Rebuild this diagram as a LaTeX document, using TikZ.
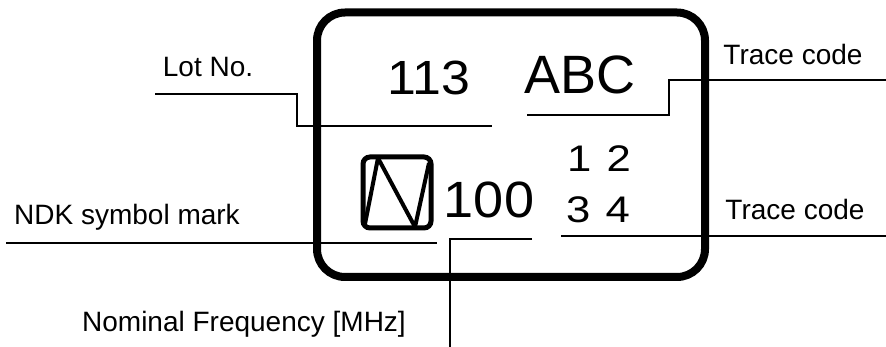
\documentclass[tikz,border=0pt]{standalone}
\usepackage{fontspec}
\usepackage{graphicx}
\setmainfont{Liberation Sans}
\newcommand{\widen}[2]{\scalebox{#1}[1]{#2}}
\begin{document}
\begin{tikzpicture}[x=1pt,y=-1pt,
  lbl/.style={inner sep=0pt,anchor=base,font=\fontsize{28}{33}\selectfont},
  big/.style={inner sep=0pt,anchor=base,font=\fontsize{48}{56}\selectfont},
  mid/.style={inner sep=0pt,anchor=base,font=\fontsize{37}{44}\selectfont},
  leader/.style={line width=1.8pt,line join=miter}]
\useasboundingbox (0,0) rectangle (886,347);
% outer label outline
\node[draw,line width=8pt,rounded corners=28pt,minimum width=388pt,minimum height=264.5pt,inner sep=0pt] (plate) at (511,144.75) {};
% NDK symbol mark
\node[draw,line width=5pt,rounded corners=7pt,minimum width=68pt,minimum height=71pt,inner sep=0pt] (sym) at (397,192.5) {};
\draw[line width=4pt,line join=round] (365,224) -- (378,158) -- (415,227) -- (429,163);
% texts
\node[big] (lot) at (429,95) {\widen{1.08}{113}};
\node[big,font=\fontsize{54}{62}\selectfont] (abc) at (580,94) {ABC};
\node[big,font=\fontsize{51}{60}\selectfont] (freq) at (489,218) {\widen{1.06}{100}};
\node[mid] (tc1) at (599,172) {\widen{1.18}{1\hspace{13pt}2}};
\node[mid] (tc2) at (598,223) {\widen{1.18}{3\hspace{13pt}4}};
\node[lbl] (lotlbl) at (208,77) {Lot No.};
\node[lbl] (tcl1) at (793,65) {Trace code};
\node[lbl] (tcl2) at (795,220) {Trace code};
\node[lbl] (ndklbl) at (127,225) {NDK symbol mark};
\node[lbl] (freqlbl) at (244,331) {Nominal Frequency [MHz]};
% leader coordinates
\coordinate (l1) at (155,94);
\coordinate (l2) at (297,94);
\coordinate (l3) at (297,126);
\coordinate (l4) at (492,126);
\coordinate (t1) at (527,115);
\coordinate (t2) at (669,115);
\coordinate (t3) at (669,80);
\coordinate (t4) at (886,80);
\coordinate (b1) at (561,236);
\coordinate (b2) at (886,236);
\coordinate (n1) at (6,243);
\coordinate (n2) at (437,243);
\coordinate (f1) at (532,239);
\coordinate (f2) at (450,239);
\coordinate (f3) at (450,347);
% leaders
\draw[leader] (l1) -- (l2) -- (l3) -- (l4);
\draw[leader] (t1) -- (t2) -- (t3) -- (t4);
\draw[leader] (b1) -- (b2);
\draw[leader] (n1) -- (n2);
\draw[leader] (f1) -- (f2) -- (f3);
\end{tikzpicture}
\end{document}
